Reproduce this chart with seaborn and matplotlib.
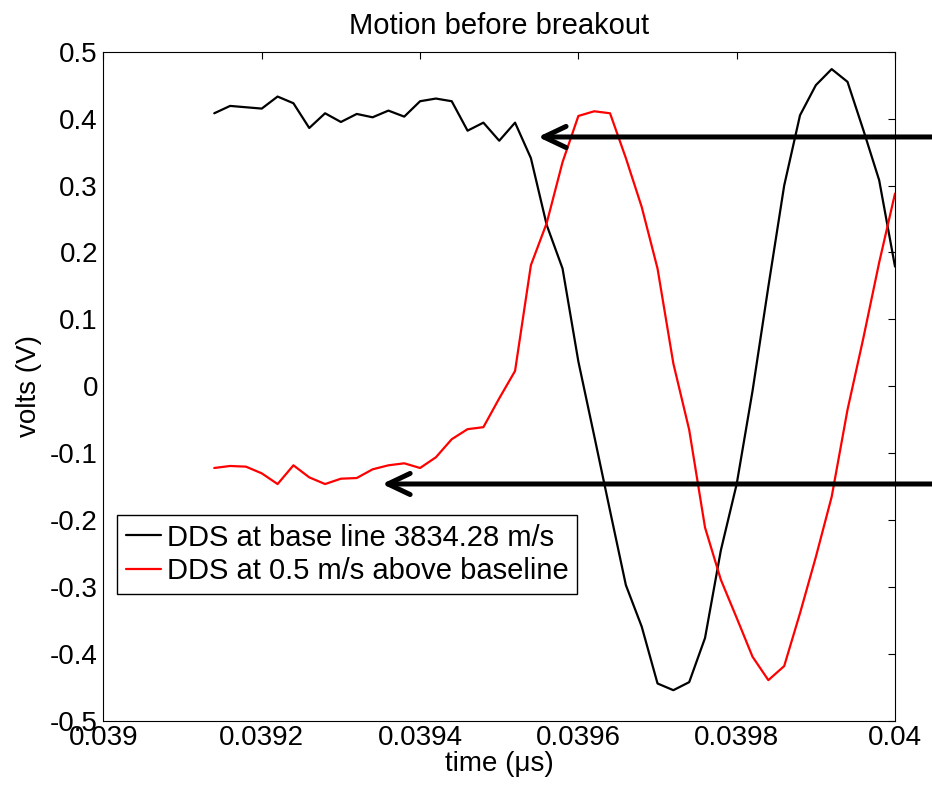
import numpy as np
import pandas as pd
import matplotlib
matplotlib.use("Agg")
import matplotlib.pyplot as plt
import seaborn as sns

# ---- data ----
time_us = [0.03914, 0.03916, 0.03918, 0.03920, 0.03922, 0.03924, 0.03926, 0.03928,
           0.03930, 0.03932, 0.03934, 0.03936, 0.03938, 0.03940, 0.03942, 0.03944,
           0.03946, 0.03948, 0.03950, 0.03952, 0.03954, 0.03956, 0.03958, 0.03960,
           0.03962, 0.03964, 0.03966, 0.03968, 0.03970, 0.03972, 0.03974, 0.03976,
           0.03978, 0.03980, 0.03982, 0.03984, 0.03986, 0.03988, 0.03990, 0.03992,
           0.03994, 0.03996, 0.03998, 0.04000]

dds_baseline = [0.408, 0.419, 0.417, 0.415, 0.433, 0.423, 0.386, 0.408,
                0.395, 0.407, 0.402, 0.412, 0.403, 0.426, 0.430, 0.426,
                0.382, 0.394, 0.367, 0.394, 0.341, 0.241, 0.176, 0.037,
                -0.074, -0.186, -0.297, -0.359, -0.444, -0.454, -0.442, -0.376,
                -0.245, -0.146, -0.007, 0.149, 0.300, 0.405, 0.450, 0.474,
                0.455, 0.383, 0.308, 0.179]

dds_above = [-0.122, -0.119, -0.120, -0.130, -0.146, -0.118, -0.136, -0.146,
             -0.138, -0.137, -0.124, -0.118, -0.115, -0.122, -0.106, -0.079,
             -0.064, -0.061, -0.018, 0.023, 0.181, 0.244, 0.335, 0.404,
             0.411, 0.408, 0.341, 0.268, 0.176, 0.034, -0.065, -0.211,
             -0.289, -0.346, -0.404, -0.439, -0.418, -0.339, -0.255, -0.165,
             -0.035, 0.072, 0.185, 0.288]

series_names = ["DDS at base line 3834.28 m/s", "DDS at 0.5 m/s above baseline"]
series_colors = ["#000000", "#ff0000"]

xtick_values = [0.039, 0.0392, 0.0394, 0.0396, 0.0398, 0.04]
xtick_labels = ["0.039", "0.0392", "0.0394", "0.0396", "0.0398", "0.04"]
ytick_values = [-0.5, -0.4, -0.3, -0.2, -0.1, 0.0, 0.1, 0.2, 0.3, 0.4, 0.5]
ytick_labels = ["-0.5", "-0.4", "-0.3", "-0.2", "-0.1", "0", "0.1", "0.2", "0.3", "0.4", "0.5"]

# arrow annotations (tip positions in data units)
arrow_tips_x = [0.039549, 0.039352]
arrow_tips_y = [0.3726, -0.1459]

# ---- build frame ----
df = pd.DataFrame({
    "time": time_us * 2,
    "volts": dds_baseline + dds_above,
    "series": [series_names[0]] * len(time_us) + [series_names[1]] * len(time_us),
})

sns.set_theme(style="white")
plt.rcParams["font.family"] = ["Liberation Sans", "DejaVu Sans"]
plt.rcParams["text.color"] = "black"

fig = plt.figure(figsize=(9.32, 7.87), dpi=100)
ax = fig.add_axes([0.111, 0.0839, 0.8493, 0.8504])

sns.lineplot(data=df, x="time", y="volts", hue="series", hue_order=series_names,
             palette=series_colors, linewidth=1.6, ax=ax, legend=True, sort=False)

ax.set_xlim(0.039, 0.04)
ax.set_ylim(-0.5, 0.5)
ax.set_xticks(xtick_values, labels=xtick_labels)
ax.set_yticks(ytick_values, labels=ytick_labels)
ax.tick_params(axis="both", direction="in", length=5, width=0.8, color="black",
               labelsize=20, labelcolor="black", top=True, right=True, pad=4)
ax.tick_params(axis="x", pad=3)
for s in ax.spines.values():
    s.set_color("black")
    s.set_linewidth(0.8)
    s.set_visible(True)

ax.set_title("Motion before breakout", fontsize=21, color="black", pad=13)
ax.set_xlabel("time (\u03bcs)", fontsize=20, color="black", labelpad=0)
ax.set_ylabel("volts (V)", fontsize=20, color="black", labelpad=6)

leg = ax.legend(loc="upper left", bbox_to_anchor=(0.0172, 0.308), borderaxespad=0,
                fontsize=21, frameon=True, fancybox=False, handlelength=1.2,
                handletextpad=0.2, borderpad=0.3, labelspacing=0.2,
                labelcolor="black")
leg.get_frame().set_edgecolor("black")
leg.get_frame().set_linewidth(1.0)
leg.get_frame().set_alpha(1)
for line in leg.get_lines():
    line.set_linewidth(1.6)

for tx, ty in zip(arrow_tips_x, arrow_tips_y):
    ax.annotate("", xy=(tx, ty), xycoords="data",
                xytext=(1.01, ty), textcoords=("figure fraction", "data"),
                arrowprops=dict(arrowstyle="->,head_length=0.8,head_width=0.38",
                                lw=3.6, color="black", shrinkA=0, shrinkB=0,
                                mutation_scale=20),
                annotation_clip=False)

fig.savefig("out.png", dpi=100, facecolor="white")
